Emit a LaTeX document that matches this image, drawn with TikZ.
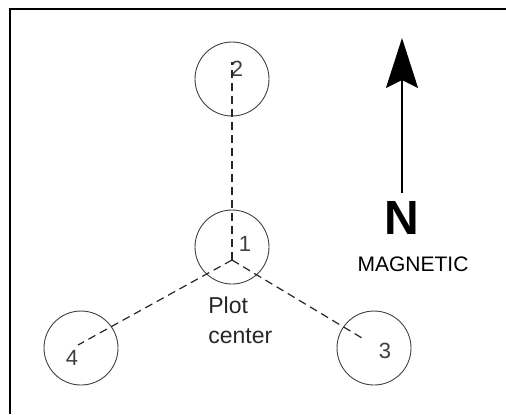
\documentclass[tikz,border=0pt]{standalone}
\usepackage{fontspec}
\setmainfont{Liberation Sans}
\usetikzlibrary{arrows.meta}

\begin{document}
\begin{tikzpicture}[x=0.5pt, y=-0.5pt,
    plot/.style={circle, draw=black!75, line width=0.45pt, minimum size=37pt, inner sep=0pt},
    num/.style={font=\fontsize{11}{11}\selectfont, text=black!75, inner sep=0pt},
    tie/.style={draw=black!85, line width=0.6pt, dash pattern=on 4pt off 2.5pt}
    ]
    \useasboundingbox (0,0) rectangle (506,414);
    % frame
    \draw[line width=1pt] (10,414) -- (10,9) -- (506,9);

    % subplots
    \node[plot] (c1) at (232,247) {};
    \node[plot] (c2) at (232,79) {};
    \node[plot] (c3) at (374,348) {};
    \node[plot] (c4) at (81,348) {};

    \node[num] (n1) at (245,244) {1};
    \node[num] (n2) at (237,69) {2};
    \node[num] (n3) at (385,351) {3};
    \node[num] (n4) at (72,358) {4};

    % ties from plot center
    \coordinate (pc) at (232,260);
    \coordinate (p2) at (232,62);
    \coordinate (p3) at (362,338);
    \coordinate (p4) at (78,345);
    \draw[tie] (pc) -- (p2);
    \draw[tie] (pc) -- (p3);
    \draw[tie] (pc) -- (p4);

    \node[anchor=north west, align=left, inner sep=0pt,
          font=\fontsize{11.5}{15}\selectfont, text=black!85] (lab) at (208,296) {Plot\\center};

    % north arrow
    \node[font=\fontsize{24}{24}\selectfont\bfseries, inner sep=0pt] (north) at (402,218) {N};
    \node[font=\fontsize{10.5}{10.5}\selectfont, inner sep=0pt] (mag) at (413,264) {MAGNETIC};
    \coordinate (tip) at (402,38);
    \draw[line width=1pt, -{Stealth[length=25pt, width=16pt, inset=4pt]}]
        (north.north) ++(0,-8) -- (tip);
\end{tikzpicture}
\end{document}
